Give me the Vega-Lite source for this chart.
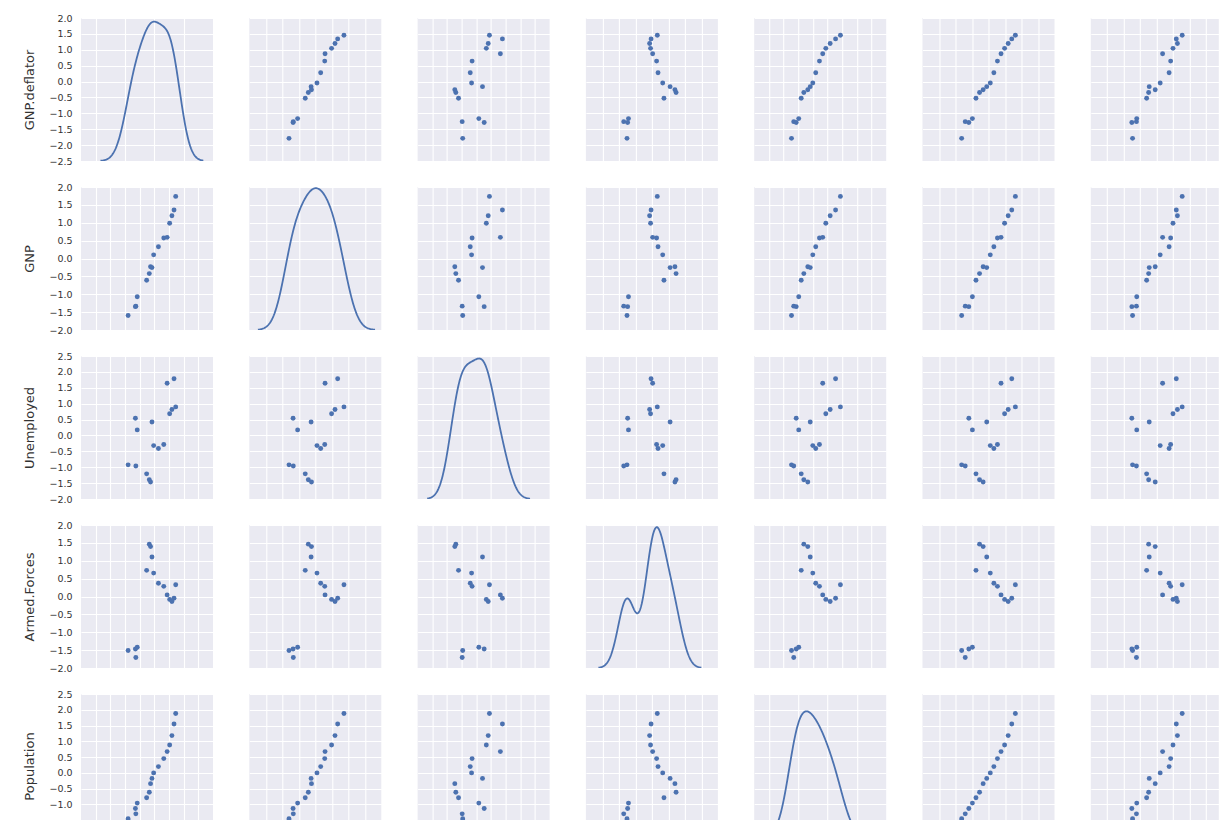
{
"$schema": "https://vega.github.io/schema/vega-lite/v6.json",
"padding": {"left": 23, "top": 13, "right": 0, "bottom": 0},
"background": "#FFFFFF",
"data": {"values": [
{"deflator": -1.788, "gnp": -1.594, "unemployed": -0.925, "armed": -1.509, "population": -1.457, "year": -1.627, "employed": -1.469},
{"deflator": -1.261, "gnp": -1.333, "unemployed": -0.960, "armed": -1.708, "population": -1.305, "year": -1.410, "employed": -1.234},
{"deflator": -1.290, "gnp": -1.347, "unemployed": 0.540, "armed": -1.470, "population": -1.136, "year": -1.193, "employed": -1.513},
{"deflator": -1.166, "gnp": -1.071, "unemployed": 0.174, "armed": -1.420, "population": -0.964, "year": -0.976, "employed": -1.215},
{"deflator": -0.525, "gnp": -0.610, "unemployed": -1.209, "armed": 0.731, "population": -0.794, "year": -0.759, "employed": -0.616},
{"deflator": -0.343, "gnp": -0.423, "unemployed": -1.394, "armed": 1.465, "population": -0.617, "year": -0.542, "employed": -0.494},
{"deflator": -0.257, "gnp": -0.232, "unemployed": -1.463, "armed": 1.396, "population": -0.346, "year": -0.325, "employed": -0.096},
{"deflator": -0.161, "gnp": -0.255, "unemployed": 0.425, "armed": 1.103, "population": -0.179, "year": -0.108, "employed": -0.458},
{"deflator": -0.046, "gnp": 0.102, "unemployed": -0.320, "armed": 0.655, "population": -0.005, "year": 0.108, "employed": 0.206},
{"deflator": 0.279, "gnp": 0.327, "unemployed": -0.410, "armed": 0.371, "population": 0.195, "year": 0.325, "employed": 0.747},
{"deflator": 0.643, "gnp": 0.572, "unemployed": -0.284, "armed": 0.284, "population": 0.449, "year": 0.542, "employed": 0.839},
{"deflator": 0.873, "gnp": 0.591, "unemployed": 1.644, "armed": 0.045, "population": 0.672, "year": 0.759, "employed": 0.352},
{"deflator": 1.045, "gnp": 0.987, "unemployed": 0.685, "armed": -0.081, "population": 0.882, "year": 0.976, "employed": 0.982},
{"deflator": 1.198, "gnp": 1.194, "unemployed": 0.815, "armed": -0.138, "population": 1.180, "year": 1.193, "employed": 1.249},
{"deflator": 1.342, "gnp": 1.356, "unemployed": 1.782, "armed": -0.051, "population": 1.548, "year": 1.410, "employed": 1.181},
{"deflator": 1.457, "gnp": 1.737, "unemployed": 0.899, "armed": 0.327, "population": 1.879, "year": 1.627, "employed": 1.539}
]},
"columns": 7,
"bounds": "flush",
"spacing": {"row": 26, "column": 36.3},
"concat": [
{"width":132,"height":143,"layer":[
 {"mark":{"type":"circle","opacity":0},"encoding":{"x":{"field":"deflator","type":"quantitative","scale":{"domain":[-5,4],"nice":false,"zero":false},"axis":{"values":[-4,-3,-2,-1,0,1,2,3]},"title":null},"y":{"field":"deflator","type":"quantitative","scale":{"domain":[-2.5,2],"nice":false,"zero":false},"axis":{"values":[-2.5,-2,-1.5,-1,-0.5,0,0.5,1,1.5,2],"labels":true,"format":".1f"},"title":"GNP.deflator"}}},
 {"transform":[{"density":"deflator","bandwidth":0.628,"extent":[-3.672,3.341],"as":["value","density"]}],"mark":{"type":"line","color":"#4C72B0","strokeWidth":1.8,"clip":true},"encoding":{"x":{"field":"value","type":"quantitative","title":null},"y":{"field":"density","type":"quantitative","scale":{"domain":[0,0.30],"nice":false,"zero":false},"axis":null}}}
],"resolve":{"scale":{"y":"independent"}}},
{"width":132,"height":143,"mark":{"type":"circle","size":24,"color":"#4C72B0","opacity":1,"clip":true},"encoding":{"x":{"field":"gnp","type":"quantitative","scale":{"domain":[-4,4],"nice":false,"zero":false},"axis":{"values":[-3,-2,-1,0,1,2,3]},"title":null},"y":{"field":"deflator","type":"quantitative","scale":{"domain":[-2.5,2],"nice":false,"zero":false},"axis":{"values":[-2.5,-2,-1.5,-1,-0.5,0,0.5,1,1.5,2]},"title":null}}},
{"width":132,"height":143,"mark":{"type":"circle","size":24,"color":"#4C72B0","opacity":1,"clip":true},"encoding":{"x":{"field":"unemployed","type":"quantitative","scale":{"domain":[-4,5],"nice":false,"zero":false},"axis":{"values":[-3,-2,-1,0,1,2,3,4]},"title":null},"y":{"field":"deflator","type":"quantitative","scale":{"domain":[-2.5,2],"nice":false,"zero":false},"axis":{"values":[-2.5,-2,-1.5,-1,-0.5,0,0.5,1,1.5,2]},"title":null}}},
{"width":132,"height":143,"mark":{"type":"circle","size":24,"color":"#4C72B0","opacity":1,"clip":true},"encoding":{"x":{"field":"armed","type":"quantitative","scale":{"domain":[-4,4],"nice":false,"zero":false},"axis":{"values":[-3,-2,-1,0,1,2,3]},"title":null},"y":{"field":"deflator","type":"quantitative","scale":{"domain":[-2.5,2],"nice":false,"zero":false},"axis":{"values":[-2.5,-2,-1.5,-1,-0.5,0,0.5,1,1.5,2]},"title":null}}},
{"width":132,"height":143,"mark":{"type":"circle","size":24,"color":"#4C72B0","opacity":1,"clip":true},"encoding":{"x":{"field":"population","type":"quantitative","scale":{"domain":[-4,5],"nice":false,"zero":false},"axis":{"values":[-3,-2,-1,0,1,2,3,4]},"title":null},"y":{"field":"deflator","type":"quantitative","scale":{"domain":[-2.5,2],"nice":false,"zero":false},"axis":{"values":[-2.5,-2,-1.5,-1,-0.5,0,0.5,1,1.5,2]},"title":null}}},
{"width":132,"height":143,"mark":{"type":"circle","size":24,"color":"#4C72B0","opacity":1,"clip":true},"encoding":{"x":{"field":"year","type":"quantitative","scale":{"domain":[-4,4],"nice":false,"zero":false},"axis":{"values":[-3,-2,-1,0,1,2,3]},"title":null},"y":{"field":"deflator","type":"quantitative","scale":{"domain":[-2.5,2],"nice":false,"zero":false},"axis":{"values":[-2.5,-2,-1.5,-1,-0.5,0,0.5,1,1.5,2]},"title":null}}},
{"width":128,"height":143,"mark":{"type":"circle","size":24,"color":"#4C72B0","opacity":1,"clip":true},"encoding":{"x":{"field":"employed","type":"quantitative","scale":{"domain":[-4,3.758],"nice":false,"zero":false},"axis":{"values":[-3,-2,-1,0,1,2,3]},"title":null},"y":{"field":"deflator","type":"quantitative","scale":{"domain":[-2.5,2],"nice":false,"zero":false},"axis":{"values":[-2.5,-2,-1.5,-1,-0.5,0,0.5,1,1.5,2]},"title":null}}},

{"width":132,"height":143,"mark":{"type":"circle","size":24,"color":"#4C72B0","opacity":1,"clip":true},"encoding":{"x":{"field":"deflator","type":"quantitative","scale":{"domain":[-5,4],"nice":false,"zero":false},"axis":{"values":[-4,-3,-2,-1,0,1,2,3]},"title":null},"y":{"field":"gnp","type":"quantitative","scale":{"domain":[-2,2],"nice":false,"zero":false},"axis":{"values":[-2,-1.5,-1,-0.5,0,0.5,1,1.5,2],"labels":true,"format":".1f"},"title":"GNP"}}},
{"width":132,"height":143,"layer":[
 {"mark":{"type":"circle","opacity":0},"encoding":{"x":{"field":"gnp","type":"quantitative","scale":{"domain":[-4,4],"nice":false,"zero":false},"axis":{"values":[-3,-2,-1,0,1,2,3]},"title":null},"y":{"field":"gnp","type":"quantitative","scale":{"domain":[-2,2],"nice":false,"zero":false},"axis":{"values":[-2,-1.5,-1,-0.5,0,0.5,1,1.5,2]},"title":null}}},
 {"transform":[{"density":"gnp","bandwidth":0.628,"extent":[-3.478,3.621],"as":["value","density"]}],"mark":{"type":"line","color":"#4C72B0","strokeWidth":1.8,"clip":true},"encoding":{"x":{"field":"value","type":"quantitative","title":null},"y":{"field":"density","type":"quantitative","scale":{"domain":[0,0.30],"nice":false,"zero":false},"axis":null}}}
],"resolve":{"scale":{"y":"independent"}}},
{"width":132,"height":143,"mark":{"type":"circle","size":24,"color":"#4C72B0","opacity":1,"clip":true},"encoding":{"x":{"field":"unemployed","type":"quantitative","scale":{"domain":[-4,5],"nice":false,"zero":false},"axis":{"values":[-3,-2,-1,0,1,2,3,4]},"title":null},"y":{"field":"gnp","type":"quantitative","scale":{"domain":[-2,2],"nice":false,"zero":false},"axis":{"values":[-2,-1.5,-1,-0.5,0,0.5,1,1.5,2]},"title":null}}},
{"width":132,"height":143,"mark":{"type":"circle","size":24,"color":"#4C72B0","opacity":1,"clip":true},"encoding":{"x":{"field":"armed","type":"quantitative","scale":{"domain":[-4,4],"nice":false,"zero":false},"axis":{"values":[-3,-2,-1,0,1,2,3]},"title":null},"y":{"field":"gnp","type":"quantitative","scale":{"domain":[-2,2],"nice":false,"zero":false},"axis":{"values":[-2,-1.5,-1,-0.5,0,0.5,1,1.5,2]},"title":null}}},
{"width":132,"height":143,"mark":{"type":"circle","size":24,"color":"#4C72B0","opacity":1,"clip":true},"encoding":{"x":{"field":"population","type":"quantitative","scale":{"domain":[-4,5],"nice":false,"zero":false},"axis":{"values":[-3,-2,-1,0,1,2,3,4]},"title":null},"y":{"field":"gnp","type":"quantitative","scale":{"domain":[-2,2],"nice":false,"zero":false},"axis":{"values":[-2,-1.5,-1,-0.5,0,0.5,1,1.5,2]},"title":null}}},
{"width":132,"height":143,"mark":{"type":"circle","size":24,"color":"#4C72B0","opacity":1,"clip":true},"encoding":{"x":{"field":"year","type":"quantitative","scale":{"domain":[-4,4],"nice":false,"zero":false},"axis":{"values":[-3,-2,-1,0,1,2,3]},"title":null},"y":{"field":"gnp","type":"quantitative","scale":{"domain":[-2,2],"nice":false,"zero":false},"axis":{"values":[-2,-1.5,-1,-0.5,0,0.5,1,1.5,2]},"title":null}}},
{"width":128,"height":143,"mark":{"type":"circle","size":24,"color":"#4C72B0","opacity":1,"clip":true},"encoding":{"x":{"field":"employed","type":"quantitative","scale":{"domain":[-4,3.758],"nice":false,"zero":false},"axis":{"values":[-3,-2,-1,0,1,2,3]},"title":null},"y":{"field":"gnp","type":"quantitative","scale":{"domain":[-2,2],"nice":false,"zero":false},"axis":{"values":[-2,-1.5,-1,-0.5,0,0.5,1,1.5,2]},"title":null}}},

{"width":132,"height":143,"mark":{"type":"circle","size":24,"color":"#4C72B0","opacity":1,"clip":true},"encoding":{"x":{"field":"deflator","type":"quantitative","scale":{"domain":[-5,4],"nice":false,"zero":false},"axis":{"values":[-4,-3,-2,-1,0,1,2,3]},"title":null},"y":{"field":"unemployed","type":"quantitative","scale":{"domain":[-2,2.5],"nice":false,"zero":false},"axis":{"values":[-2,-1.5,-1,-0.5,0,0.5,1,1.5,2,2.5],"labels":true,"format":".1f"},"title":"Unemployed"}}},
{"width":132,"height":143,"mark":{"type":"circle","size":24,"color":"#4C72B0","opacity":1,"clip":true},"encoding":{"x":{"field":"gnp","type":"quantitative","scale":{"domain":[-4,4],"nice":false,"zero":false},"axis":{"values":[-3,-2,-1,0,1,2,3]},"title":null},"y":{"field":"unemployed","type":"quantitative","scale":{"domain":[-2,2.5],"nice":false,"zero":false},"axis":{"values":[-2,-1.5,-1,-0.5,0,0.5,1,1.5,2,2.5]},"title":null}}},
{"width":132,"height":143,"layer":[
 {"mark":{"type":"circle","opacity":0},"encoding":{"x":{"field":"unemployed","type":"quantitative","scale":{"domain":[-4,5],"nice":false,"zero":false},"axis":{"values":[-3,-2,-1,0,1,2,3,4]},"title":null},"y":{"field":"unemployed","type":"quantitative","scale":{"domain":[-2,2.5],"nice":false,"zero":false},"axis":{"values":[-2,-1.5,-1,-0.5,0,0.5,1,1.5,2,2.5]},"title":null}}},
 {"transform":[{"density":"unemployed","bandwidth":0.628,"extent":[-3.347,3.666],"as":["value","density"]}],"mark":{"type":"line","color":"#4C72B0","strokeWidth":1.8,"clip":true},"encoding":{"x":{"field":"value","type":"quantitative","title":null},"y":{"field":"density","type":"quantitative","scale":{"domain":[0,0.30],"nice":false,"zero":false},"axis":null}}}
],"resolve":{"scale":{"y":"independent"}}},
{"width":132,"height":143,"mark":{"type":"circle","size":24,"color":"#4C72B0","opacity":1,"clip":true},"encoding":{"x":{"field":"armed","type":"quantitative","scale":{"domain":[-4,4],"nice":false,"zero":false},"axis":{"values":[-3,-2,-1,0,1,2,3]},"title":null},"y":{"field":"unemployed","type":"quantitative","scale":{"domain":[-2,2.5],"nice":false,"zero":false},"axis":{"values":[-2,-1.5,-1,-0.5,0,0.5,1,1.5,2,2.5]},"title":null}}},
{"width":132,"height":143,"mark":{"type":"circle","size":24,"color":"#4C72B0","opacity":1,"clip":true},"encoding":{"x":{"field":"population","type":"quantitative","scale":{"domain":[-4,5],"nice":false,"zero":false},"axis":{"values":[-3,-2,-1,0,1,2,3,4]},"title":null},"y":{"field":"unemployed","type":"quantitative","scale":{"domain":[-2,2.5],"nice":false,"zero":false},"axis":{"values":[-2,-1.5,-1,-0.5,0,0.5,1,1.5,2,2.5]},"title":null}}},
{"width":132,"height":143,"mark":{"type":"circle","size":24,"color":"#4C72B0","opacity":1,"clip":true},"encoding":{"x":{"field":"year","type":"quantitative","scale":{"domain":[-4,4],"nice":false,"zero":false},"axis":{"values":[-3,-2,-1,0,1,2,3]},"title":null},"y":{"field":"unemployed","type":"quantitative","scale":{"domain":[-2,2.5],"nice":false,"zero":false},"axis":{"values":[-2,-1.5,-1,-0.5,0,0.5,1,1.5,2,2.5]},"title":null}}},
{"width":128,"height":143,"mark":{"type":"circle","size":24,"color":"#4C72B0","opacity":1,"clip":true},"encoding":{"x":{"field":"employed","type":"quantitative","scale":{"domain":[-4,3.758],"nice":false,"zero":false},"axis":{"values":[-3,-2,-1,0,1,2,3]},"title":null},"y":{"field":"unemployed","type":"quantitative","scale":{"domain":[-2,2.5],"nice":false,"zero":false},"axis":{"values":[-2,-1.5,-1,-0.5,0,0.5,1,1.5,2,2.5]},"title":null}}},

{"width":132,"height":143,"mark":{"type":"circle","size":24,"color":"#4C72B0","opacity":1,"clip":true},"encoding":{"x":{"field":"deflator","type":"quantitative","scale":{"domain":[-5,4],"nice":false,"zero":false},"axis":{"values":[-4,-3,-2,-1,0,1,2,3]},"title":null},"y":{"field":"armed","type":"quantitative","scale":{"domain":[-2,2],"nice":false,"zero":false},"axis":{"values":[-2,-1.5,-1,-0.5,0,0.5,1,1.5,2],"labels":true,"format":".1f"},"title":"Armed.Forces"}}},
{"width":132,"height":143,"mark":{"type":"circle","size":24,"color":"#4C72B0","opacity":1,"clip":true},"encoding":{"x":{"field":"gnp","type":"quantitative","scale":{"domain":[-4,4],"nice":false,"zero":false},"axis":{"values":[-3,-2,-1,0,1,2,3]},"title":null},"y":{"field":"armed","type":"quantitative","scale":{"domain":[-2,2],"nice":false,"zero":false},"axis":{"values":[-2,-1.5,-1,-0.5,0,0.5,1,1.5,2]},"title":null}}},
{"width":132,"height":143,"mark":{"type":"circle","size":24,"color":"#4C72B0","opacity":1,"clip":true},"encoding":{"x":{"field":"unemployed","type":"quantitative","scale":{"domain":[-4,5],"nice":false,"zero":false},"axis":{"values":[-3,-2,-1,0,1,2,3,4]},"title":null},"y":{"field":"armed","type":"quantitative","scale":{"domain":[-2,2],"nice":false,"zero":false},"axis":{"values":[-2,-1.5,-1,-0.5,0,0.5,1,1.5,2]},"title":null}}},
{"width":132,"height":143,"layer":[
 {"mark":{"type":"circle","opacity":0},"encoding":{"x":{"field":"armed","type":"quantitative","scale":{"domain":[-4,4],"nice":false,"zero":false},"axis":{"values":[-3,-2,-1,0,1,2,3]},"title":null},"y":{"field":"armed","type":"quantitative","scale":{"domain":[-2,2],"nice":false,"zero":false},"axis":{"values":[-2,-1.5,-1,-0.5,0,0.5,1,1.5,2]},"title":null}}},
 {"transform":[{"density":"armed","bandwidth":0.511,"extent":[-3.241,2.998],"as":["value","density"]}],"mark":{"type":"line","color":"#4C72B0","strokeWidth":1.8,"clip":true},"encoding":{"x":{"field":"value","type":"quantitative","title":null},"y":{"field":"density","type":"quantitative","scale":{"domain":[0,0.40],"nice":false,"zero":false},"axis":null}}}
],"resolve":{"scale":{"y":"independent"}}},
{"width":132,"height":143,"mark":{"type":"circle","size":24,"color":"#4C72B0","opacity":1,"clip":true},"encoding":{"x":{"field":"population","type":"quantitative","scale":{"domain":[-4,5],"nice":false,"zero":false},"axis":{"values":[-3,-2,-1,0,1,2,3,4]},"title":null},"y":{"field":"armed","type":"quantitative","scale":{"domain":[-2,2],"nice":false,"zero":false},"axis":{"values":[-2,-1.5,-1,-0.5,0,0.5,1,1.5,2]},"title":null}}},
{"width":132,"height":143,"mark":{"type":"circle","size":24,"color":"#4C72B0","opacity":1,"clip":true},"encoding":{"x":{"field":"year","type":"quantitative","scale":{"domain":[-4,4],"nice":false,"zero":false},"axis":{"values":[-3,-2,-1,0,1,2,3]},"title":null},"y":{"field":"armed","type":"quantitative","scale":{"domain":[-2,2],"nice":false,"zero":false},"axis":{"values":[-2,-1.5,-1,-0.5,0,0.5,1,1.5,2]},"title":null}}},
{"width":128,"height":143,"mark":{"type":"circle","size":24,"color":"#4C72B0","opacity":1,"clip":true},"encoding":{"x":{"field":"employed","type":"quantitative","scale":{"domain":[-4,3.758],"nice":false,"zero":false},"axis":{"values":[-3,-2,-1,0,1,2,3]},"title":null},"y":{"field":"armed","type":"quantitative","scale":{"domain":[-2,2],"nice":false,"zero":false},"axis":{"values":[-2,-1.5,-1,-0.5,0,0.5,1,1.5,2]},"title":null}}},

{"width":132,"height":126,"mark":{"type":"circle","size":24,"color":"#4C72B0","opacity":1,"clip":true},"encoding":{"x":{"field":"deflator","type":"quantitative","scale":{"domain":[-5,4],"nice":false,"zero":false},"axis":{"values":[-4,-3,-2,-1,0,1,2,3]},"title":null},"y":{"field":"population","type":"quantitative","scale":{"domain":[-1.5,2.5],"nice":false,"zero":false},"axis":{"values":[-1,-0.5,0,0.5,1,1.5,2,2.5],"labels":true,"format":".1f","titleY":72},"title":"Population"}}},
{"width":132,"height":126,"mark":{"type":"circle","size":24,"color":"#4C72B0","opacity":1,"clip":true},"encoding":{"x":{"field":"gnp","type":"quantitative","scale":{"domain":[-4,4],"nice":false,"zero":false},"axis":{"values":[-3,-2,-1,0,1,2,3]},"title":null},"y":{"field":"population","type":"quantitative","scale":{"domain":[-1.5,2.5],"nice":false,"zero":false},"axis":{"values":[-1,-0.5,0,0.5,1,1.5,2,2.5]},"title":null}}},
{"width":132,"height":126,"mark":{"type":"circle","size":24,"color":"#4C72B0","opacity":1,"clip":true},"encoding":{"x":{"field":"unemployed","type":"quantitative","scale":{"domain":[-4,5],"nice":false,"zero":false},"axis":{"values":[-3,-2,-1,0,1,2,3,4]},"title":null},"y":{"field":"population","type":"quantitative","scale":{"domain":[-1.5,2.5],"nice":false,"zero":false},"axis":{"values":[-1,-0.5,0,0.5,1,1.5,2,2.5]},"title":null}}},
{"width":132,"height":126,"mark":{"type":"circle","size":24,"color":"#4C72B0","opacity":1,"clip":true},"encoding":{"x":{"field":"armed","type":"quantitative","scale":{"domain":[-4,4],"nice":false,"zero":false},"axis":{"values":[-3,-2,-1,0,1,2,3]},"title":null},"y":{"field":"population","type":"quantitative","scale":{"domain":[-1.5,2.5],"nice":false,"zero":false},"axis":{"values":[-1,-0.5,0,0.5,1,1.5,2,2.5]},"title":null}}},
{"width":132,"height":126,"layer":[
 {"mark":{"type":"circle","opacity":0},"encoding":{"x":{"field":"population","type":"quantitative","scale":{"domain":[-4,5],"nice":false,"zero":false},"axis":{"values":[-3,-2,-1,0,1,2,3,4]},"title":null},"y":{"field":"population","type":"quantitative","scale":{"domain":[-1.5,2.5],"nice":false,"zero":false},"axis":{"values":[-1,-0.5,0,0.5,1,1.5,2,2.5]},"title":null}}},
 {"transform":[{"density":"population","bandwidth":0.628,"extent":[-3.341,3.763],"as":["value","density"]}],"mark":{"type":"line","color":"#4C72B0","strokeWidth":1.8,"clip":true},"encoding":{"x":{"field":"value","type":"quantitative","title":null},"y":{"field":"density","type":"quantitative","scale":{"domain":[0.03889,0.35],"nice":false,"zero":false},"axis":null}}}
],"resolve":{"scale":{"y":"independent"}}},
{"width":132,"height":126,"mark":{"type":"circle","size":24,"color":"#4C72B0","opacity":1,"clip":true},"encoding":{"x":{"field":"year","type":"quantitative","scale":{"domain":[-4,4],"nice":false,"zero":false},"axis":{"values":[-3,-2,-1,0,1,2,3]},"title":null},"y":{"field":"population","type":"quantitative","scale":{"domain":[-1.5,2.5],"nice":false,"zero":false},"axis":{"values":[-1,-0.5,0,0.5,1,1.5,2,2.5]},"title":null}}},
{"width":128,"height":126,"mark":{"type":"circle","size":24,"color":"#4C72B0","opacity":1,"clip":true},"encoding":{"x":{"field":"employed","type":"quantitative","scale":{"domain":[-4,3.758],"nice":false,"zero":false},"axis":{"values":[-3,-2,-1,0,1,2,3]},"title":null},"y":{"field":"population","type":"quantitative","scale":{"domain":[-1.5,2.5],"nice":false,"zero":false},"axis":{"values":[-1,-0.5,0,0.5,1,1.5,2,2.5]},"title":null}}}
],
"config": {
 "view": {"stroke": null, "fill": "#EAEAF2"},
 "axis": {"domain": false, "ticks": false, "labels": false, "grid": true, "gridColor": "#FFFFFF", "gridWidth": 1.1, "gridOpacity": 1, "minExtent": 0, "labelFont": "DejaVu Sans", "titleFont": "DejaVu Sans", "labelColor": "#333333", "titleColor": "#333333", "labelFontSize": 9.5, "titleFontSize": 13, "titleFontWeight": "normal", "labelPadding": 9, "titlePadding": 12}
}
}
